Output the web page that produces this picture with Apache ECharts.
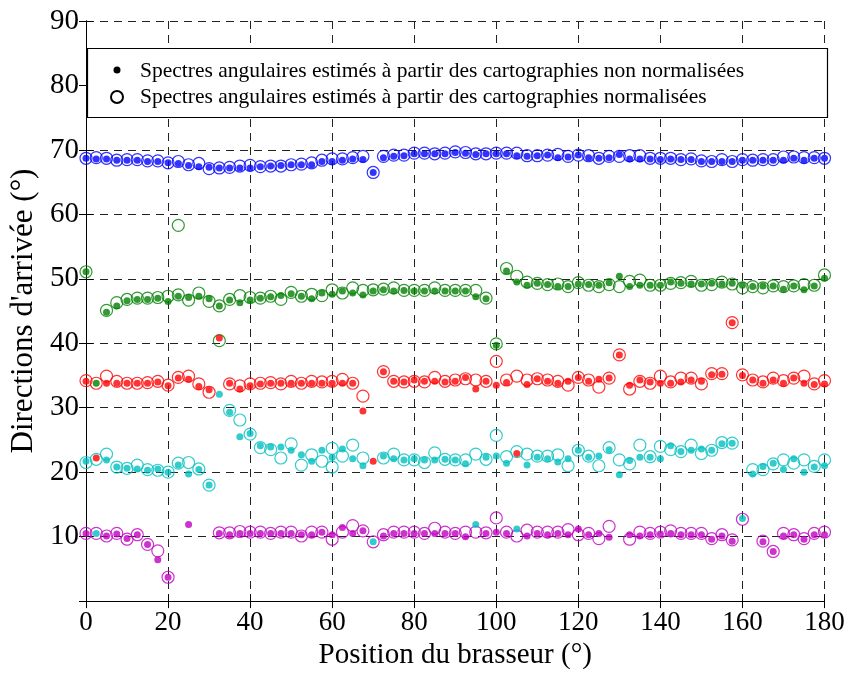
<!DOCTYPE html>
<html>
<head>
<meta charset="UTF-8">
<title>Directions d'arrivée</title>
<script src="https://cdn.jsdelivr.net/npm/echarts@6/dist/echarts.min.js"></script>
<style>
  body { margin: 0; background: #fff; }
  #main { width: 851px; height: 675px; }
</style>
</head>
<body>
<div id="main"></div>
<script>
// positions du brasseur (deg)
var positions = [0,2.5,5,7.5,10,12.5,15,17.5,20,22.5,25,27.5,30,32.5,35,37.5,40,42.5,45,47.5,
  50,52.5,55,57.5,60,62.5,65,67.5,70,72.5,75,77.5,80,82.5,85,87.5,90,92.5,95,97.5,
  100,102.5,105,107.5,110,112.5,115,117.5,120,122.5,125,127.5,130,132.5,135,137.5,140,142.5,145,147.5,
  150,152.5,155,157.5,160,162.5,165,167.5,170,172.5,175,177.5,180];

var xTicks = [0, 20, 40, 60, 80, 100, 120, 140, 160, 180];
var yTicks = [10, 20, 30, 40, 50, 60, 70, 80, 90];

// non normalisées (points pleins)
var blueFilled = [68.7,68.6,68.6,68.4,68.4,68.4,68.2,68.2,68.0,67.9, 67.6,67.4,67.3,67.2,67.2,67.2,67.2,67.4,67.5,67.6,
  67.7,67.7,67.7,68.2,68.2,68.4,68.6,68.5,66.5,68.8, 69.0,69.1,69.4,69.4,69.4,69.4,69.6,69.5,69.3,69.4,
  69.4,69.4,69.1,69.0,69.1,69.2,68.8,68.9,69.2,68.8, 68.7,68.8,69.3,68.6,68.6,68.6,68.5,68.6,68.5,68.5,
  68.2,68.2,68.2,68.2,68.4,68.4,68.4,68.4,68.4,68.7, 68.4,68.7,68.7];
var greenFilled = [51.1,33.8,44.8,45.8,46.6,46.8,46.8,47.0,46.5,47.3, 47.1,47.3,46.9,45.8,46.7,46.3,46.7,47.0,47.2,47.4,
  47.7,47.3,46.9,47.8,47.6,48.1,47.8,47.5,48.1,48.3, 48.1,48.2,48.1,48.1,48.1,48.1,48.1,48.1,47.2,46.9,
  39.7,51.2,49.5,49.0,49.3,49.1,48.8,48.8,49.2,49.1, 49.0,49.4,50.4,48.8,49.0,49.0,49.0,49.5,49.3,49.2,
  49.2,49.3,49.2,49.3,49.0,48.8,48.9,48.9,48.4,48.9, 48.3,48.9,50.1];
var redFilled = [34.1,22.2,33.8,33.8,33.8,33.8,33.8,34.0,33.4,34.6, 34.4,33.3,32.8,40.8,33.8,32.9,33.4,33.7,33.8,33.8,
  33.8,33.8,33.8,33.8,33.8,33.8,33.8,29.5,21.7,35.6, 34.1,34.0,34.3,34.1,34.1,34.0,34.1,34.7,32.9,34.1,
  33.5,33.9,22.9,33.6,34.5,34.1,33.8,34.1,34.7,34.1, 34.4,34.6,38.2,33.5,34.3,34.0,33.8,33.8,34.0,34.3,
  34.1,35.1,35.2,43.2,35.0,34.3,33.8,34.3,33.8,34.6, 33.8,33.6,33.7];
var cyanFilled = [21.7,10.5,21.9,20.8,20.6,20.5,20.3,20.5,20.0,21.1, 19.7,20.4,18.0,32.1,29.3,25.5,26.0,24.1,23.9,23.9,
  23.4,22.7,21.7,23.4,22.3,23.6,22.1,21.0,9.2,22.5, 22.1,21.9,22.1,21.9,21.9,22.0,21.9,21.3,11.9,22.3,
  22.5,21.4,11.2,21.1,22.3,22.1,21.6,22.1,23.4,22.3, 22.5,23.5,19.6,21.8,22.3,22.3,22.1,24.1,23.2,23.4,
  23.6,23.4,24.4,24.5,12.8,19.7,20.9,21.4,20.4,22.1, 20.0,20.8,21.0];
var magentaFilled = [10.5,null,10.1,10.4,9.7,10.3,8.8,6.4,3.7,null, 11.9,null,null,10.5,10.3,10.5,10.5,10.5,10.5,10.5,
  10.5,10.3,10.3,10.7,10.3,11.4,10.5,10.9,null,10.1, 10.5,10.5,10.5,10.5,10.5,10.5,10.5,10.0,null,10.5,
  10.7,10.5,null,10.1,10.5,10.3,10.5,10.3,11.2,10.3, 10.5,9.9,null,10.3,10.1,10.3,10.4,10.5,10.3,10.3,
  10.3,9.6,10.1,9.3,null,null,9.2,7.7,10.1,10.3, 9.6,10.3,10.3];

// normalisées (cercles)
var blueOpen = [68.7,68.8,68.7,68.4,68.5,68.5,68.3,68.3,68.0,68.2, 67.7,67.9,67.1,67.2,67.3,67.5,67.6,67.4,67.5,67.5,
  67.7,67.8,68.0,68.4,68.6,68.6,68.8,69.0,66.5,69.0, 69.2,69.2,69.5,69.5,69.4,69.5,69.7,69.6,69.4,69.4,
  69.5,69.5,69.5,69.1,69.1,69.2,69.3,69.0,69.2,69.1, 68.7,69.0,69.0,69.1,69.1,68.7,68.7,68.7,68.5,68.6,
  68.3,68.2,68.5,68.2,68.5,68.4,68.5,68.5,68.9,68.9, 68.8,68.8,68.7];
var greenOpen = [51.1,null,45.1,46.3,46.8,47.0,47.0,47.1,47.3,47.5, 46.7,47.8,46.5,45.8,46.8,47.4,47.1,47.0,47.3,46.8,
  47.9,47.3,47.6,47.4,48.3,47.8,48.6,48.2,48.3,48.4, 48.6,48.2,48.2,48.2,48.6,48.2,48.2,48.2,48.2,47.0,
  39.9,51.6,50.4,49.5,49.3,49.1,49.2,48.8,49.4,49.0, 48.8,49.1,48.8,49.6,49.8,49.0,49.0,49.3,49.4,49.6,
  49.0,49.1,49.5,49.2,48.6,48.8,48.6,48.9,48.8,48.9, 49.1,49.0,50.6];
var greenOpenExtra = [[22.5, 58.3], [32.5, 40.4]];
var redOpen = [34.2,33.8,34.9,34.1,33.8,33.8,33.9,34.1,33.5,34.7, 34.9,33.7,32.4,null,33.7,33.4,33.7,33.8,33.9,33.7,
  34.1,33.8,34.1,34.0,34.1,34.4,33.8,31.8,null,35.6, 34.1,34.0,34.1,34.0,34.7,34.1,34.3,34.5,34.3,34.1,
  37.2,34.3,34.9,34.3,34.5,34.3,34.1,33.5,34.7,34.3, 33.2,34.6,38.2,32.9,34.1,33.8,34.9,34.0,34.6,34.6,
  33.7,35.3,35.3,43.2,35.1,34.3,34.0,34.6,34.2,34.6, 34.9,33.7,34.2];
var cyanOpen = [21.5,22.0,22.8,20.8,20.6,21.1,20.4,20.3,20.0,21.4, 21.5,20.5,18.0,null,29.6,28.1,25.9,23.8,23.5,22.2,
  24.4,21.1,22.7,21.7,23.7,22.5,24.2,22.2,null,22.2, 22.8,21.9,21.9,21.5,23.0,22.0,21.9,21.9,22.8,22.0,
  25.7,22.4,23.2,22.8,22.5,22.5,22.7,21.0,23.4,22.5, 21.0,23.8,21.9,21.3,24.2,22.4,24.0,23.5,23.2,24.2,
  22.9,23.4,24.6,24.5,null,20.4,20.4,21.3,21.9,21.4, 21.9,20.9,21.9];
var cyanOpenExtra = [[60, 20.8]];
var magentaOpen = [10.5,10.5,10.1,10.5,9.6,10.3,8.8,7.8,3.7,null, null,null,null,10.6,10.6,10.8,10.7,10.7,10.5,10.7,
  10.7,10.1,10.7,10.7,9.6,10.7,11.7,10.9,9.2,10.3, 10.7,10.7,10.7,10.5,11.3,10.7,10.5,10.7,10.7,10.6,
  12.9,10.7,10.1,11.0,10.7,10.7,10.7,11.1,10.3,10.5, 9.7,11.6,null,9.6,10.7,10.5,10.7,10.9,10.5,10.5,
  10.5,9.7,10.3,9.5,12.7,null,9.3,7.7,10.5,10.3, 9.7,10.5,10.7];

var legendLabels = [
  'Spectres angulaires estimés à partir des cartographies non normalisées',
  'Spectres angulaires estimés à partir des cartographies normalisées'
];

function pairs(vals, extra) {
  var out = [];
  for (var i = 0; i < positions.length; i++) {
    if (vals[i] != null) out.push([positions[i], vals[i]]);
  }
  return out.concat(extra || []);
}

var serif = 'Liberation Serif';
var colors = { b: '#0000ff', g: '#008000', r: '#ff0000', c: '#00bfbf', m: '#bf00bf' };

function openSeries(data, col) {
  return {
    type: 'scatter', data: data, symbol: 'circle', symbolSize: 12,
    itemStyle: { color: 'rgba(0,0,0,0)', borderColor: col, borderWidth: 1.2 },
    silent: true, animation: false
  };
}
function filledSeries(data, col) {
  return {
    type: 'scatter', data: data, symbol: 'circle', symbolSize: 7,
    itemStyle: { color: col },
    silent: true, animation: false
  };
}

var gridLine = { show: true, lineStyle: { color: '#222', type: [8, 6], width: 1 } };

var myChart = echarts.init(document.getElementById('main'));
var option = {
  backgroundColor: '#fff',
  grid: { left: 85.5, right: 26.5, top: 21, bottom: 66 },
  xAxis: [{
    type: 'value', min: 0, max: 180, interval: 20,
    name: 'Position du brasseur (°)', nameLocation: 'middle', nameGap: 35,
    nameTextStyle: { fontFamily: serif, fontSize: 29, color: '#000' },
    axisLine: { lineStyle: { color: '#000', width: 1 } },
    axisTick: { inside: true, length: 7, lineStyle: { color: '#000' } },
    axisLabel: { fontFamily: serif, fontSize: 27, color: '#000', margin: 8,
      customValues: xTicks },
    splitLine: gridLine
  }, {
    type: 'value', min: 0, max: 180, interval: 20, position: 'top',
    axisLine: { show: true, lineStyle: { color: '#000', width: 1 } },
    axisTick: { inside: true, length: 7, lineStyle: { color: '#000' } },
    axisLabel: { show: false }, splitLine: { show: false }
  }],
  yAxis: [{
    type: 'value', min: 0, max: 90, interval: 10,
    name: "Directions d'arrivée (°)", nameLocation: 'middle', nameGap: 47,
    nameTextStyle: { fontFamily: serif, fontSize: 31, color: '#000' },
    axisLine: { show: true, lineStyle: { color: '#000', width: 1 } },
    axisTick: { inside: true, length: 7, lineStyle: { color: '#000' } },
    axisLabel: { fontFamily: serif, fontSize: 29, color: '#000', margin: 7,
      formatter: function (v) { return yTicks.indexOf(v) >= 0 ? String(v) : ''; } },
    splitLine: gridLine
  }, {
    type: 'value', min: 0, max: 90, interval: 10, position: 'right',
    axisLine: { show: true, lineStyle: { color: '#000', width: 1 } },
    axisTick: { inside: true, length: 7, lineStyle: { color: '#000' } },
    axisLabel: { show: false }, splitLine: { show: false }
  }],
  series: [
    openSeries(pairs(blueOpen), colors.b),
    openSeries(pairs(greenOpen, greenOpenExtra), colors.g),
    openSeries(pairs(redOpen), colors.r),
    openSeries(pairs(cyanOpen, cyanOpenExtra), colors.c),
    openSeries(pairs(magentaOpen), colors.m),
    filledSeries(pairs(blueFilled), colors.b),
    filledSeries(pairs(greenFilled), colors.g),
    filledSeries(pairs(redFilled), colors.r),
    filledSeries(pairs(cyanFilled), colors.c),
    filledSeries(pairs(magentaFilled), colors.m)
  ],
  graphic: {
    elements: [
      { type: 'rect', z: 50, shape: { x: 87.5, y: 48.5, width: 740, height: 69 },
        style: { fill: '#fff', stroke: '#000', lineWidth: 1.2 } },
      { type: 'circle', z: 51, shape: { cx: 117, cy: 70, r: 3.5 }, style: { fill: '#000' } },
      { type: 'circle', z: 51, shape: { cx: 117, cy: 97, r: 6 },
        style: { fill: 'none', stroke: '#000', lineWidth: 2 } },
      { type: 'text', z: 51, x: 140, y: 71,
        style: { text: legendLabels[0], font: '21.5px "Liberation Serif"', fill: '#000', verticalAlign: 'middle' } },
      { type: 'text', z: 51, x: 140, y: 97,
        style: { text: legendLabels[1], font: '21.5px "Liberation Serif"', fill: '#000', verticalAlign: 'middle' } }
    ]
  }
};
myChart.setOption(option);
</script>
</body>
</html>
